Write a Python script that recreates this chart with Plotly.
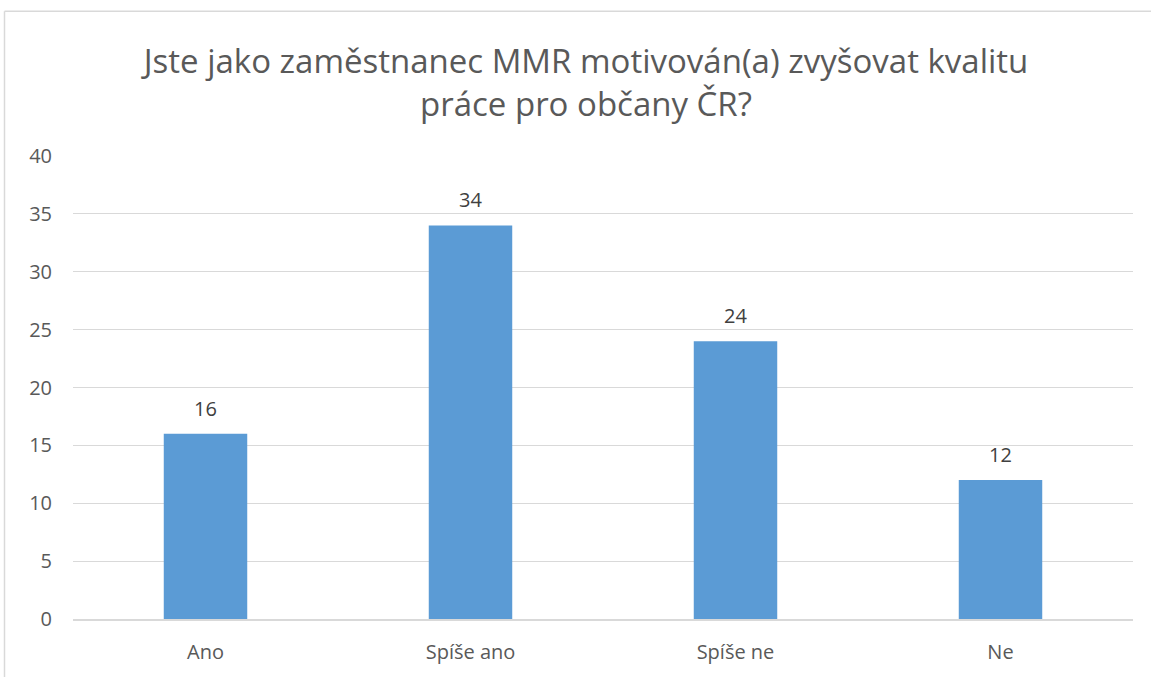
import plotly.graph_objects as go

categories = ["Ano", "Spíše ano", "Spíše ne", "Ne"]
values = [16, 34, 24, 12]
y_ticks = [0, 5, 10, 15, 20, 25, 30, 35, 40]

W, H = 1151, 677
L, R, T, B = 73, 18, 156, 56
pw, ph = W - L - R, H - T - B
FONT = "Open Sans, Lato, sans-serif"

fig = go.Figure()
fig.add_trace(go.Bar(
    x=categories, y=values,
    marker=dict(color="#5B9BD5", line=dict(width=0)),
    width=0.315,
    hoverinfo="x+y",
))

for c, v in zip(categories, values):
    fig.add_annotation(x=c, y=v, text=str(v), showarrow=False,
                       yanchor="bottom", yshift=10,
                       font=dict(family=FONT, size=20, color="#404040"))

bx = (4.5 - L) / pw
by = (H - B - 10.5) / ph
fig.add_shape(type="line", xref="paper", yref="paper",
              x0=bx, x1=bx, y0=by, y1=-0.3, line=dict(color="#D9D9D9", width=1.5))
fig.add_shape(type="line", xref="paper", yref="paper",
              x0=bx, x1=1.1, y0=by, y1=by, line=dict(color="#D9D9D9", width=1.5))

fig.update_layout(
    width=W, height=H,
    margin=dict(l=L, r=R, t=T, b=B),
    paper_bgcolor="white", plot_bgcolor="white",
    showlegend=False,
    title=dict(text="Jste jako zaměstnanec MMR motivován(a) zvyšovat kvalitu<br>práce pro občany ČR?",
               x=586 / W, xanchor="center", xref="container",
               y=1 - 73 / H, yanchor="middle", yref="container",
               font=dict(family=FONT, size=33, color="#595959")),
    font=dict(family=FONT, color="#595959"),
    xaxis=dict(showgrid=False, showline=True, linecolor="#D9D9D9", linewidth=1.5,
               tickfont=dict(size=20, color="#595959"), ticks="", ticklabelstandoff=14),
    yaxis=dict(range=[0, 40], tickvals=y_ticks, showgrid=True, gridcolor="#D9D9D9", gridwidth=1,
               zeroline=False, showline=False,
               tickfont=dict(size=20, color="#595959"), ticks="", ticklabelstandoff=20),
)

fig.write_html("out.html", config={"displayModeBar": False},
               post_script="document.body.style.margin='0';")
